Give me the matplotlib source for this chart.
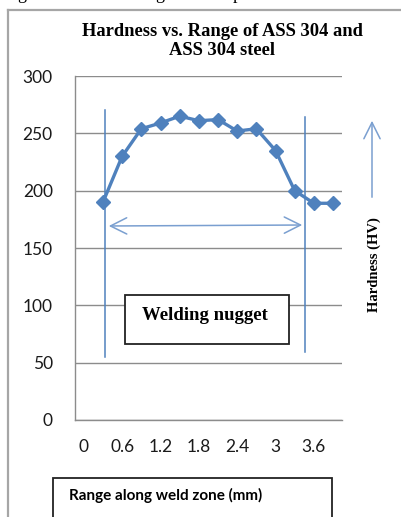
import matplotlib
matplotlib.use("Agg")
import matplotlib.pyplot as plt
from matplotlib.lines import Line2D
from matplotlib.patches import Rectangle, FancyArrowPatch

# ---- data ----
positions_mm = [0.3, 0.6, 0.9, 1.2, 1.5, 1.8, 2.1, 2.4, 2.7, 3.0, 3.3, 3.6, 3.9]
hardness_hv = [190, 230, 254, 259, 265, 261, 262, 252, 254, 235, 200, 189, 189]
x_ticks = [0, 0.6, 1.2, 1.8, 2.4, 3, 3.6]
x_tick_labels = ["0", "0.6", "1.2", "1.8", "2.4", "3", "3.6"]
y_ticks = [0, 50, 100, 150, 200, 250, 300]
title_text = "Hardness vs. Range of ASS 304 and\nASS 304 steel"
x_label_text = "Range along weld zone (mm)"
y_label_text = "Hardness (HV)"
zone_text = "Welding nugget"

W, H = 402, 517
fig = plt.figure(figsize=(W / 100, H / 100), dpi=100)
fig.patch.set_facecolor("white")

def fx(px):
    return px / W

def fy(py):
    return 1 - py / H

BLUE = "#4F81BD"
LBLUE = "#7A9FD0"
GRID = "#8C8C8C"
SERIF = ["Liberation Serif", "DejaVu Serif"]
SANS = ["Lato", "DejaVu Sans"]

# axes: plot area from px x 75..342, y 76..420
ax = fig.add_axes([fx(75), fy(420), (342 - 75) / W, (420 - 76) / H])
ax.plot(positions_mm, hardness_hv, color=BLUE, lw=2.4, marker="D", ms=6.8,
        mfc=BLUE, mec=BLUE, zorder=3, clip_on=False)
ax.set_xlim(-0.138, 4.04)
ax.set_ylim(0, 300)
ax.set_yticks(y_ticks)
ax.set_xticks(x_ticks)
ax.set_xticklabels(x_tick_labels)
ax.yaxis.grid(True, color=GRID, lw=1.0)
ax.set_axisbelow(True)
for s in ["top", "right"]:
    ax.spines[s].set_visible(False)
for s in ["left", "bottom"]:
    ax.spines[s].set_color(GRID)
    ax.spines[s].set_linewidth(1.0)
ax.tick_params(axis="both", length=0, labelsize=12.5, colors="#1a1a1a")
ax.tick_params(axis="x", pad=14)
ax.tick_params(axis="y", pad=16)
for lab in ax.get_xticklabels() + ax.get_yticklabels():
    lab.set_family(SANS)

# outer chart border (left and top)
fig.add_artist(Line2D([fx(8), fx(8)], [fy(517), fy(10)], color="#A6A6A6", lw=1.6))
fig.add_artist(Line2D([fx(8), fx(402)], [fy(10), fy(10)], color="#A6A6A6", lw=1.6))

# fragments of the document text above the chart
for gx, g in [(22, "g"), (160, "g"), (237, "p")]:
    fig.text(fx(gx), fy(-1), g, ha="center", va="baseline", fontsize=13,
             family=SERIF, color="black")

# title
fig.text(fx(222), fy(41), title_text, ha="center", va="center", fontsize=13.3,
         fontweight="bold", family=SERIF, linespacing=1.12, color="black")

# blue vertical lines
fig.add_artist(Line2D([fx(105), fx(105)], [fy(110), fy(357)], color=BLUE, lw=1.1))
fig.add_artist(Line2D([fx(305), fx(305)], [fy(117), fy(352)], color=BLUE, lw=1.1))

# double arrow
arr = FancyArrowPatch((fx(106), fy(226)), (fx(305), fy(225)),
                      transform=fig.transFigure,
                      arrowstyle="<->,head_length=0.9,head_width=0.45",
                      mutation_scale=13, color=LBLUE, lw=1.1)
fig.add_artist(arr)

# vertical up arrow
arr2 = FancyArrowPatch((fx(372), fy(200)), (fx(372), fy(118)),
                       transform=fig.transFigure,
                       arrowstyle="->,head_length=0.9,head_width=0.45",
                       mutation_scale=13, color=LBLUE, lw=1.1)
fig.add_artist(arr2)

# rotated y label
fig.text(fx(374), fy(265), y_label_text, rotation=90, ha="center", va="center",
         fontsize=10.5, fontweight="bold", family=SERIF, color="black")

# welding nugget box
fig.add_artist(Rectangle((fx(125), fy(344)), (289 - 125) / W, (344 - 295) / H,
                         transform=fig.transFigure, facecolor="white",
                         edgecolor="#222222", lw=1.3, zorder=5))
fig.text(fx(205), fy(316), zone_text, ha="center", va="center", fontsize=13.5,
         fontweight="bold", family=SERIF, color="black", zorder=6)

# x label box
fig.add_artist(Rectangle((fx(53), fy(530)), (332 - 53) / W, (530 - 478) / H,
                         transform=fig.transFigure, facecolor="white",
                         edgecolor="#222222", lw=1.3, zorder=5))
fig.text(fx(69), fy(495), x_label_text, ha="left", va="center", fontsize=11,
         fontweight="bold", family=SANS, color="black", zorder=6)

fig.savefig("out.png", dpi=100)
